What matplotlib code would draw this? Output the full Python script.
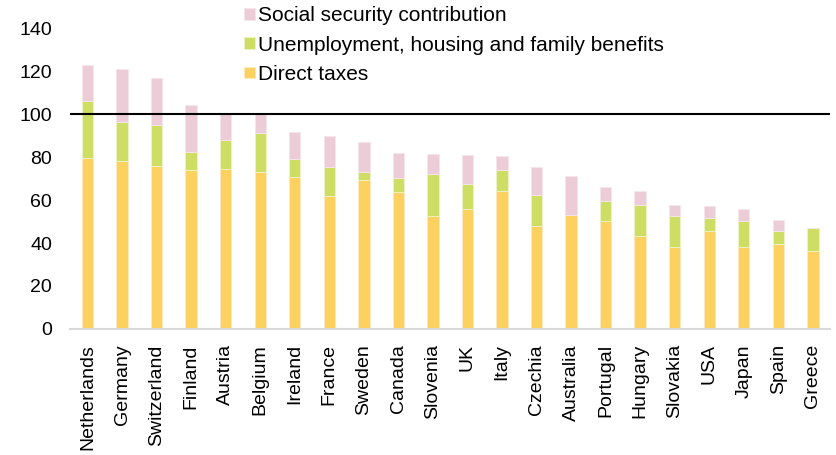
import matplotlib.pyplot as plt
import numpy as np

plt.rcParams['font.family'] = ['Liberation Sans', 'DejaVu Sans']

countries = ['Netherlands', 'Germany', 'Switzerland', 'Finland', 'Austria', 'Belgium',
             'Ireland', 'France', 'Sweden', 'Canada', 'Slovenia', 'UK', 'Italy',
             'Czechia', 'Australia', 'Portugal', 'Hungary', 'Slovakia', 'USA',
             'Japan', 'Spain', 'Greece']
direct_taxes = [79.8, 78.2, 75.8, 73.8, 74.4, 73.0, 70.6, 62.0, 69.3, 63.9, 52.6,
                55.7, 64.4, 47.8, 53.0, 50.2, 43.4, 38.3, 45.4, 38.0, 39.7, 36.1]
benefits = [26.2, 18.1, 19.2, 8.7, 13.6, 18.4, 8.7, 13.6, 3.6, 6.3, 19.6,
            11.9, 9.8, 14.7, 0.0, 9.3, 14.5, 14.5, 6.1, 12.2, 5.8, 10.7]
social_security = [16.7, 24.5, 21.8, 21.7, 12.6, 8.8, 12.2, 14.2, 14.3, 11.6, 9.3,
                   13.6, 6.4, 12.8, 18.3, 6.7, 6.3, 5.1, 5.9, 5.7, 5.0, 0.0]

c_tax = '#fdd15f'
c_ben = '#cedd63'
c_soc = '#ecccd7'

fig = plt.figure(figsize=(8.36, 4.55), dpi=100)
ax = fig.add_axes([0.084, 0.277, 0.909, 0.661])

x = np.arange(len(countries))
w = 0.33
dt = np.array(direct_taxes)
bn = np.array(benefits)
ss = np.array(social_security)
b1 = ax.bar(x, dt, w, color=c_tax, edgecolor='#fbe9c0', linewidth=0.6, label='Direct taxes')
b2 = ax.bar(x, bn, w, bottom=dt, color=c_ben, edgecolor='#eef3c8', linewidth=0.6,
            label='Unemployment, housing and family benefits')
b3 = ax.bar(x, ss, w, bottom=dt + bn, color=c_soc, edgecolor='#f6e6eb', linewidth=0.6,
            label='Social security contribution')

ax.axhline(100, color='black', linewidth=1.5, zorder=3)

ax.set_xlim(-0.5, len(countries) - 0.5)
ax.set_ylim(0, 140)
ax.set_yticks(range(0, 141, 20))
ax.set_xticks(x)
ax.set_xticklabels(countries, rotation=90, fontsize=14)
ax.tick_params(axis='y', length=0, labelsize=14, pad=13)
ax.tick_params(axis='x', length=0, pad=11)
for s in ['top', 'right', 'left']:
    ax.spines[s].set_visible(False)
ax.spines['bottom'].set_color('#d9d9d9')
ax.spines['bottom'].set_linewidth(1.5)

fig.legend([b3, b2, b1],
           ['Social security contribution', 'Unemployment, housing and family benefits', 'Direct taxes'],
           loc='upper left', bbox_to_anchor=(0.270, 1.027), frameon=False, fontsize=15,
           handlelength=0.5, handleheight=0.5, handletextpad=0.15, labelspacing=0.49)

fig.savefig('out.png', dpi=100)
